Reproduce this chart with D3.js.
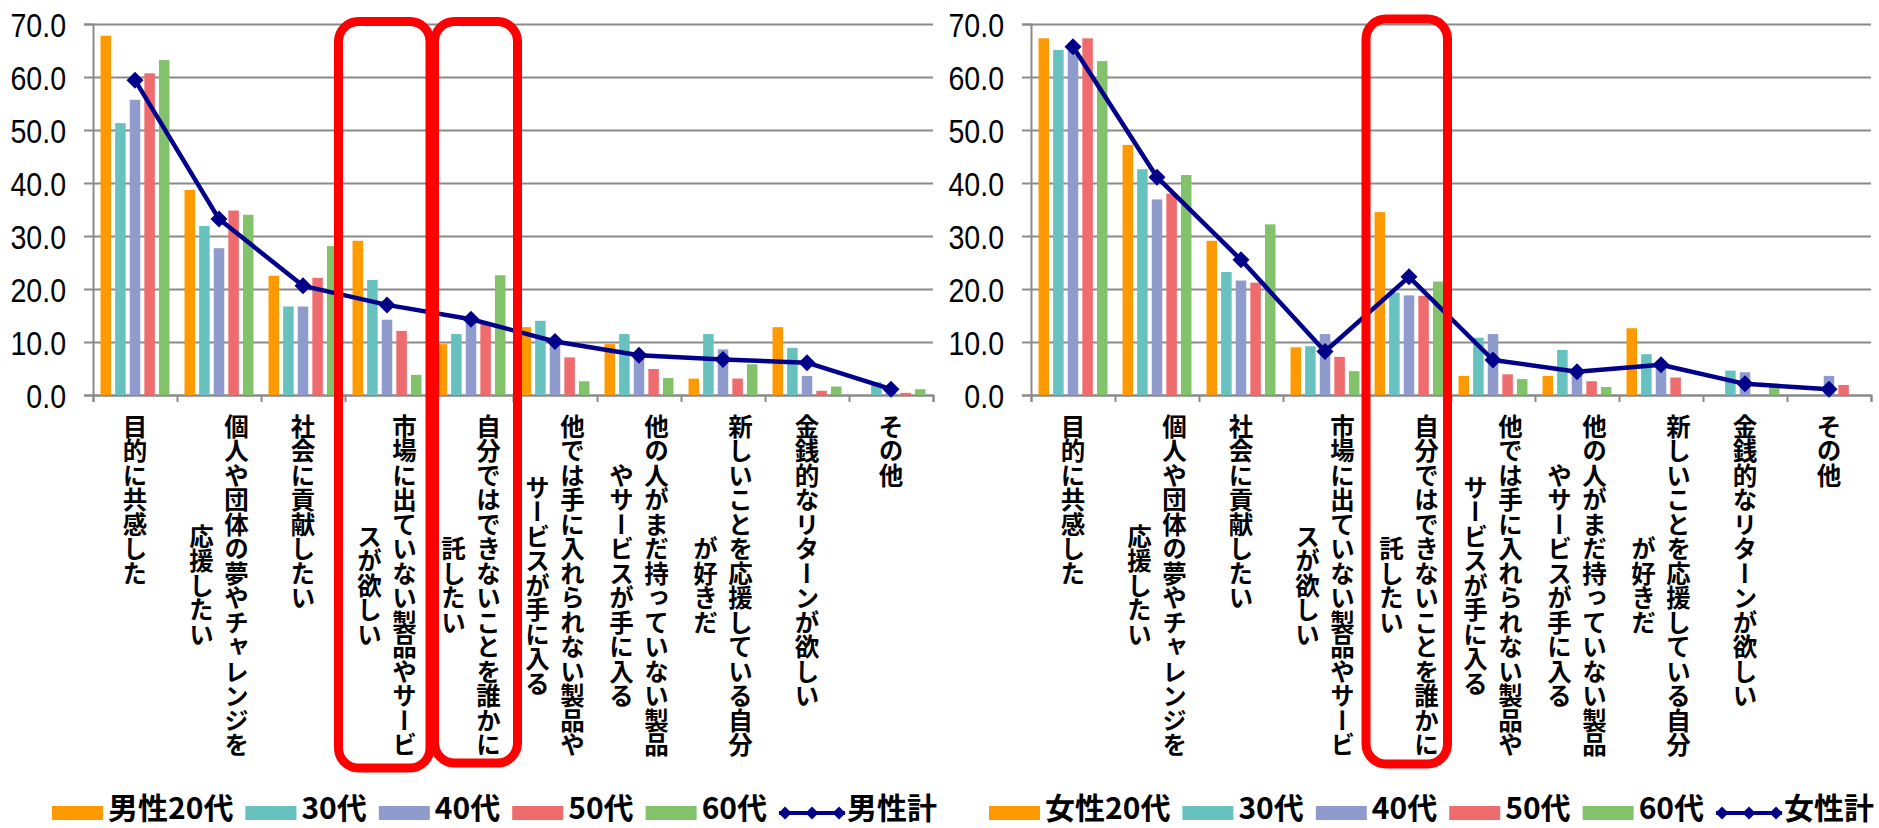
<!DOCTYPE html>
<html>
<head>
<meta charset="utf-8">
<script src="https://cdn.jsdelivr.net/npm/d3@7"></script>
<style>
  html, body { margin: 0; padding: 0; background: #fff; }
  svg { display: block; }
  text { font-family: "Noto Sans CJK JP", "Noto Sans", sans-serif; fill: #000; }
</style>
</head>
<body>
<svg id="chart" width="1879" height="828"></svg>
<script>
// Reasons for backing a project (%), by sex and age group
const categories = [
  ["目的に共感した"],
  ["個人や団体の夢やチャレンジを", "応援したい"],
  ["社会に貢献したい"],
  ["市場に出ていない製品やサービ", "スが欲しい"],
  ["自分ではできないことを誰かに", "託したい"],
  ["他では手に入れられない製品や", "サービスが手に入る"],
  ["他の人がまだ持っていない製品", "やサービスが手に入る"],
  ["新しいことを応援している自分", "が好きだ"],
  ["金銭的なリターンが欲しい"],
  ["その他"]
];
const ageGroups = ["20代", "30代", "40代", "50代", "60代"];
const yTicks = [0, 10, 20, 30, 40, 50, 60, 70];

const male20 = [67.8, 38.7, 22.5, 29.1, 9.6, 12.8, 9.6, 3.1, 12.8, 0.0];
const male30 = [51.3, 31.9, 16.7, 21.7, 11.5, 14.0, 11.5, 11.5, 8.9, 2.4];
const male40 = [55.7, 27.7, 16.7, 14.2, 13.6, 10.5, 8.0, 8.6, 3.6, 1.3];
const male50 = [60.7, 34.8, 22.1, 12.1, 13.4, 7.1, 4.9, 3.1, 0.8, 0.4];
const male60 = [63.2, 34.0, 28.1, 3.8, 22.6, 2.6, 3.2, 5.8, 1.6, 1.1];
const maleTotal = [59.4, 33.2, 20.6, 17.0, 14.3, 10.1, 7.5, 6.7, 6.1, 1.1];

const female20 = [67.3, 47.2, 29.1, 9.0, 34.5, 3.6, 3.6, 12.6, 0.0, 0.0];
const female30 = [65.1, 42.6, 23.2, 9.2, 19.3, 10.8, 8.5, 7.7, 4.6, 0.0];
const female40 = [65.0, 36.9, 21.6, 11.5, 18.8, 11.5, 5.0, 6.3, 4.3, 3.6];
const female50 = [67.3, 38.0, 21.2, 7.2, 18.7, 3.9, 2.6, 3.3, 0.0, 1.9];
const female60 = [63.0, 41.5, 32.2, 4.5, 21.4, 3.0, 1.5, 0.0, 1.6, 0.0];
const femaleTotal = [65.7, 41.1, 25.5, 8.2, 22.3, 6.6, 4.4, 5.7, 2.1, 1.1];

const maleLegend = ["男性20代", "30代", "40代", "50代", "60代", "男性計"];
const femaleLegend = ["女性20代", "30代", "40代", "50代", "60代", "女性計"];

const barColors = ["#FF9900", "#66C1BF", "#8F9BCC", "#EE6C6E", "#82C26B"];
const lineColor = "#00008B";
const gridColor = "#8a8a8a";
const highlightColor = "#FF0000";

const svg = d3.select("#chart");
svg.append("rect").attr("width", 1879).attr("height", 828).attr("fill", "#fff");

const plotTop = 24, plotBottom = 395, plotWidth = 840;
const y = d3.scaleLinear().domain([0, 70]).range([plotBottom, plotTop]);
const catNames = categories.map(c => c.join(""));
const diamond = r => `M0,${-r}L${r},0L0,${r}L${-r},0Z`;

function drawPanel(opts) {
  const g = svg.append("g");
  const x = d3.scaleBand().domain(catNames).range([opts.x0, opts.x0 + plotWidth]).padding(0);
  const inner = d3.scaleBand().domain(ageGroups).range([0, x.bandwidth()])
    .paddingInner(0.28).paddingOuter(0.516);
  const edge = d3.scaleLinear().domain([0, categories.length]).range([opts.x0, opts.x0 + plotWidth]);

  // gridlines
  const grid = g.append("g").attr("transform", `translate(${opts.x0},0)`)
    .call(d3.axisLeft(y).tickValues(yTicks).tickSize(-plotWidth).tickFormat(""));
  grid.select(".domain").remove();
  grid.selectAll(".tick line").attr("stroke", gridColor).attr("stroke-width", 2);

  // y axis with labels (narrowed digits)
  const ya = g.append("g").attr("transform", `translate(${opts.x0},0)`)
    .call(d3.axisLeft(y).tickValues(yTicks).tickSize(9).tickPadding(0).tickFormat(d3.format(".1f")));
  ya.select(".domain").attr("stroke", gridColor).attr("stroke-width", 2);
  ya.selectAll(".tick line").attr("stroke", gridColor).attr("stroke-width", 2);
  ya.selectAll(".tick text")
    .attr("x", -27 / 0.84).attr("dy", "0.36em")
    .attr("transform", "scale(0.84,1)")
    .style("font-family", "'Liberation Sans', Arial, sans-serif")
    .style("font-size", "34px").attr("fill", "#000");

  // x axis with boundary ticks
  const xa = g.append("g").attr("transform", `translate(0,${plotBottom})`)
    .call(d3.axisBottom(edge).tickValues(d3.range(categories.length + 1)).tickSize(7).tickFormat(""));
  xa.select(".domain").attr("stroke", gridColor).attr("stroke-width", 2);
  xa.selectAll(".tick line").attr("stroke", gridColor).attr("stroke-width", 2);

  // bars
  opts.series.forEach((vals, si) => {
    g.append("g").selectAll("rect").data(vals).join("rect")
      .attr("x", (d, i) => x(catNames[i]) + inner(ageGroups[si]))
      .attr("width", inner.bandwidth())
      .attr("y", d => y(d))
      .attr("height", d => y(0) - y(d))
      .attr("fill", barColors[si]);
  });

  // total line
  const cx = i => x(catNames[i]) + x.bandwidth() / 2;
  g.append("path").datum(opts.total)
    .attr("d", d3.line().x((d, i) => cx(i)).y(d => y(d)))
    .attr("fill", "none").attr("stroke", lineColor).attr("stroke-width", 4.5)
    .attr("stroke-linejoin", "round");
  g.append("g").selectAll("path").data(opts.total).join("path")
    .attr("transform", (d, i) => `translate(${cx(i)},${y(d)})`)
    .attr("d", diamond(8.5)).attr("fill", lineColor);

  // vertical category labels
  const lg = g.append("g").style("font-size", "24.5px").style("font-weight", 700);
  categories.forEach((lines, i) => {
    const c = cx(i);
    const texts = lines.map((s, j) => lg.append("text")
      .attr("x", lines.length > 1 ? (j === 0 ? c + 17.5 : c - 17.5) : c)
      .style("writing-mode", "vertical-rl")
      .attr("text-anchor", "middle")
      .text(s));
    const block = d3.max(texts, t => t.node().getComputedTextLength());
    texts.forEach(t => t.attr("y", 414 + block / 2));
  });

  // legend
  const leg = g.append("g").style("font-size", "30px").style("font-weight", 700);
  let lx = opts.legendX;
  const ly = 813;
  opts.legend.forEach((name, k) => {
    if (k < ageGroups.length) {
      leg.append("rect").attr("x", lx).attr("y", ly - 7).attr("width", 51).attr("height", 14)
        .attr("fill", barColors[k]);
      lx += 51 + 5;
    } else {
      leg.append("line").attr("x1", lx).attr("x2", lx + 66).attr("y1", ly).attr("y2", ly)
        .attr("stroke", lineColor).attr("stroke-width", 4);
      [6, 33, 60].forEach(o => leg.append("path")
        .attr("transform", `translate(${lx + o},${ly})`).attr("d", diamond(6.5)).attr("fill", lineColor));
      lx += 66 + 2;
    }
    const t = leg.append("text").attr("x", lx).attr("y", 819).text(name);
    lx += t.node().getComputedTextLength() + 12;
  });

  // highlight boxes
  opts.highlights.forEach(h => {
    g.append("rect")
      .attr("x", h.x0).attr("y", h.y0).attr("width", h.x1 - h.x0).attr("height", h.y1 - h.y0)
      .attr("rx", 20).attr("ry", 20)
      .attr("fill", "none").attr("stroke", highlightColor).attr("stroke-width", 9);
  });
}

drawPanel({
  x0: 93,
  series: [male20, male30, male40, male50, male60],
  total: maleTotal,
  legend: maleLegend,
  legendX: 52,
  highlights: [
    { x0: 338.5, x1: 430, y0: 21.5, y1: 768 },
    { x0: 434.5, x1: 517.5, y0: 21.5, y1: 763 }
  ]
});

drawPanel({
  x0: 1031,
  series: [female20, female30, female40, female50, female60],
  total: femaleTotal,
  legend: femaleLegend,
  legendX: 989,
  highlights: [
    { x0: 1366, x1: 1447.5, y0: 19, y1: 764 }
  ]
});
</script>
</body>
</html>
